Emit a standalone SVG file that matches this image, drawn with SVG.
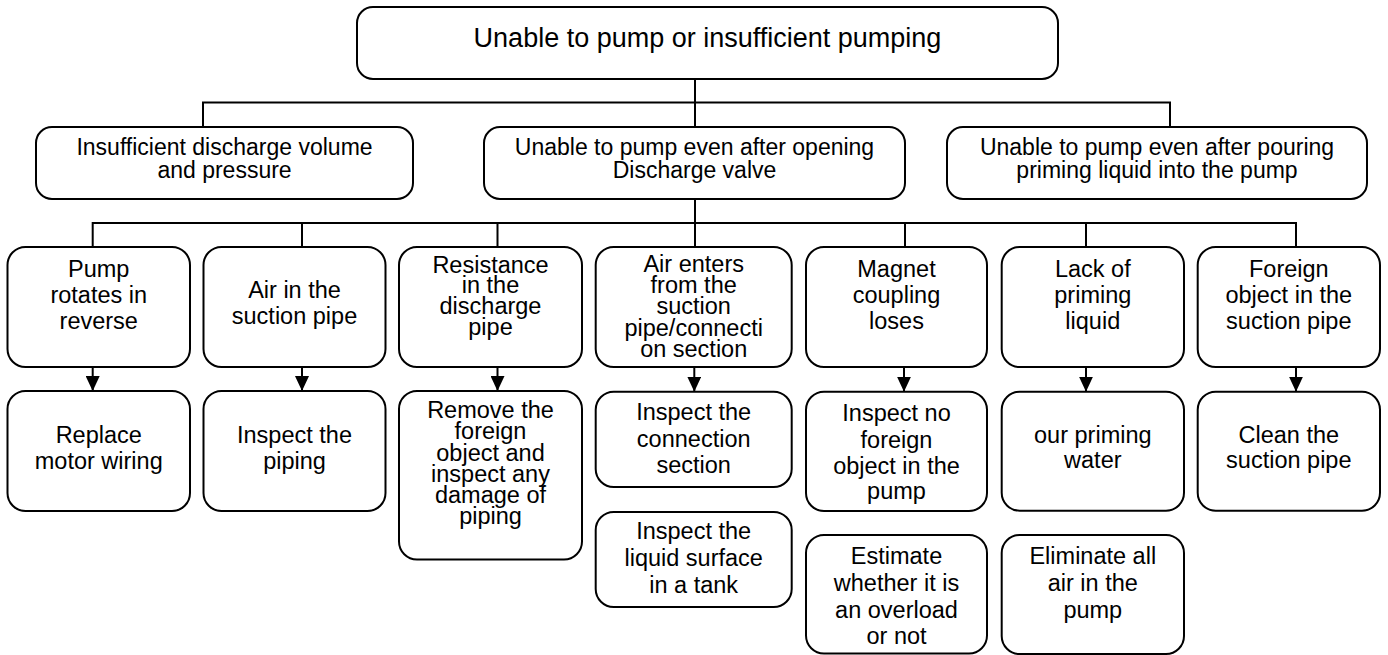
<svg xmlns="http://www.w3.org/2000/svg" width="1388" height="655" viewBox="0 0 1388 655">
<style>
.box{fill:#fff;stroke:#000;stroke-width:2}
.conn{fill:none;stroke:#000;stroke-width:2}
text{font-family:"Liberation Sans",Arial,sans-serif;fill:#000;text-anchor:middle}
.t0{font-size:27px}
.t1{font-size:23px}
.t2{font-size:23.5px}
</style>
<defs>
<marker id="ah" markerWidth="15" markerHeight="14" refX="15" refY="7" orient="auto" markerUnits="userSpaceOnUse">
<path d="M0,0 L15,7 L0,14 z" fill="#000"/>
</marker>
</defs>
<rect width="1388" height="655" fill="#fff"/>
<g id="connectors">
<path class="conn" d="M695,79 V127 M203,127 V102.5 H1170 V127"/>
<path class="conn" d="M695,199 V247 M92.7,247 V223 H1296 V247 M302,223 V247 M497.5,223 V247 M905,223 V247 M1086,223 V247"/>
<path class="conn" marker-end="url(#ah)" d="M92.7,367 V391"/>
<path class="conn" marker-end="url(#ah)" d="M302,367 V391"/>
<path class="conn" marker-end="url(#ah)" d="M497.5,367 V391"/>
<path class="conn" marker-end="url(#ah)" d="M694.3,367 V391.7"/>
<path class="conn" marker-end="url(#ah)" d="M904,367 V391.7"/>
<path class="conn" marker-end="url(#ah)" d="M1086,367 V391.7"/>
<path class="conn" marker-end="url(#ah)" d="M1296,367 V391.7"/>
</g>
<g id="root">
<rect class="box" x="357" y="7" width="701" height="72" rx="16"/>
<text class="t0" x="707.5" y="47">Unable to pump or insufficient pumping</text>
</g>
<g id="insufficient-discharge">
<rect class="box" x="36" y="127" width="377" height="72" rx="16"/>
<text class="t1" x="224.5" y="154.5">Insufficient discharge volume</text>
<text class="t1" x="224.5" y="177.7">and pressure</text>
</g>
<g id="unable-after-opening">
<rect class="box" x="484" y="127" width="421" height="72" rx="16"/>
<text class="t1" x="694.5" y="154.5">Unable to pump even after opening</text>
<text class="t1" x="694.5" y="177.7">Discharge valve</text>
</g>
<g id="unable-after-priming">
<rect class="box" x="947" y="127" width="420" height="72" rx="16"/>
<text class="t1" x="1157" y="154.5">Unable to pump even after pouring</text>
<text class="t1" x="1157" y="177.7">priming liquid into the pump</text>
</g>
<g id="pump-reverse">
<rect class="box" x="7.5" y="247" width="182.5" height="120" rx="18"/>
<text class="t2" x="98.75" y="276.7">Pump</text>
<text class="t2" x="98.75" y="303.3">rotates in</text>
<text class="t2" x="98.75" y="329.3">reverse</text>
</g>
<g id="air-suction">
<rect class="box" x="203.5" y="247" width="182" height="120" rx="18"/>
<text class="t2" x="294.5" y="298.3">Air in the</text>
<text class="t2" x="294.5" y="324">suction pipe</text>
</g>
<g id="resistance">
<rect class="box" x="399" y="247" width="183" height="120" rx="18"/>
<text class="t2" x="490.5" y="272.7">Resistance</text>
<text class="t2" x="490.5" y="293.4">in the</text>
<text class="t2" x="490.5" y="314.1">discharge</text>
<text class="t2" x="490.5" y="334.8">pipe</text>
</g>
<g id="air-enters">
<rect class="box" x="595.7" y="247" width="196" height="120" rx="18"/>
<text class="t2" x="693.7" y="272.3">Air enters</text>
<text class="t2" x="693.7" y="293.3">from the</text>
<text class="t2" x="693.7" y="314.3">suction</text>
<text class="t2" x="693.7" y="335.5">pipe/connecti</text>
<text class="t2" x="693.7" y="356.5">on section</text>
</g>
<g id="magnet">
<rect class="box" x="806" y="247" width="181" height="120" rx="18"/>
<text class="t2" x="896.5" y="276.5">Magnet</text>
<text class="t2" x="896.5" y="303.3">coupling</text>
<text class="t2" x="896.5" y="329.3">loses</text>
</g>
<g id="lack-priming">
<rect class="box" x="1001.7" y="247" width="182.3" height="120" rx="18"/>
<text class="t2" x="1092.8" y="276.7">Lack of</text>
<text class="t2" x="1092.8" y="303.3">priming</text>
<text class="t2" x="1092.8" y="329.3">liquid</text>
</g>
<g id="foreign-suction">
<rect class="box" x="1197.7" y="247" width="182.3" height="120" rx="18"/>
<text class="t2" x="1288.8" y="276.7">Foreign</text>
<text class="t2" x="1288.8" y="303.3">object in the</text>
<text class="t2" x="1288.8" y="329.3">suction pipe</text>
</g>
<g id="replace-wiring">
<rect class="box" x="7.5" y="391" width="182.5" height="120" rx="18"/>
<text class="t2" x="98.75" y="442.7">Replace</text>
<text class="t2" x="98.75" y="468.7">motor wiring</text>
</g>
<g id="inspect-piping">
<rect class="box" x="203.5" y="391" width="182" height="120" rx="18"/>
<text class="t2" x="294.5" y="442.7">Inspect the</text>
<text class="t2" x="294.5" y="468.7">piping</text>
</g>
<g id="remove-foreign">
<rect class="box" x="399" y="391" width="183" height="168.5" rx="18"/>
<text class="t2" x="490.5" y="418.3">Remove the</text>
<text class="t2" x="490.5" y="439.4">foreign</text>
<text class="t2" x="490.5" y="460.5">object and</text>
<text class="t2" x="490.5" y="481.6">inspect any</text>
<text class="t2" x="490.5" y="502.7">damage of</text>
<text class="t2" x="490.5" y="523.8">piping</text>
</g>
<g id="inspect-connection">
<rect class="box" x="595.7" y="391.7" width="196" height="95.3" rx="18"/>
<text class="t2" x="693.7" y="420">Inspect the</text>
<text class="t2" x="693.7" y="446.7">connection</text>
<text class="t2" x="693.7" y="473.3">section</text>
</g>
<g id="inspect-liquid">
<rect class="box" x="595.7" y="512" width="196" height="95" rx="18"/>
<text class="t2" x="693.7" y="539.3">Inspect the</text>
<text class="t2" x="693.7" y="566">liquid surface</text>
<text class="t2" x="693.7" y="592.7">in a tank</text>
</g>
<g id="inspect-no-foreign">
<rect class="box" x="806" y="391.7" width="181" height="119.3" rx="18"/>
<text class="t2" x="896.5" y="421">Inspect no</text>
<text class="t2" x="896.5" y="447.7">foreign</text>
<text class="t2" x="896.5" y="474.3">object in the</text>
<text class="t2" x="896.5" y="499.3">pump</text>
</g>
<g id="estimate-overload">
<rect class="box" x="806" y="535" width="181" height="118.5" rx="18"/>
<text class="t2" x="896.5" y="564">Estimate</text>
<text class="t2" x="896.5" y="591">whether it is</text>
<text class="t2" x="896.5" y="617.7">an overload</text>
<text class="t2" x="896.5" y="644">or not</text>
</g>
<g id="pour-priming">
<rect class="box" x="1001.7" y="391.7" width="182.3" height="119" rx="18"/>
<text class="t2" x="1092.8" y="443.3">our priming</text>
<text class="t2" x="1092.8" y="468.3">water</text>
</g>
<g id="eliminate-air">
<rect class="box" x="1001.7" y="535" width="182.3" height="119" rx="18"/>
<text class="t2" x="1092.8" y="564">Eliminate all</text>
<text class="t2" x="1092.8" y="591">air in the</text>
<text class="t2" x="1092.8" y="618.3">pump</text>
</g>
<g id="clean-suction">
<rect class="box" x="1197.7" y="391.7" width="182.3" height="119" rx="18"/>
<text class="t2" x="1288.8" y="442.7">Clean the</text>
<text class="t2" x="1288.8" y="468.3">suction pipe</text>
</g>
</svg>
